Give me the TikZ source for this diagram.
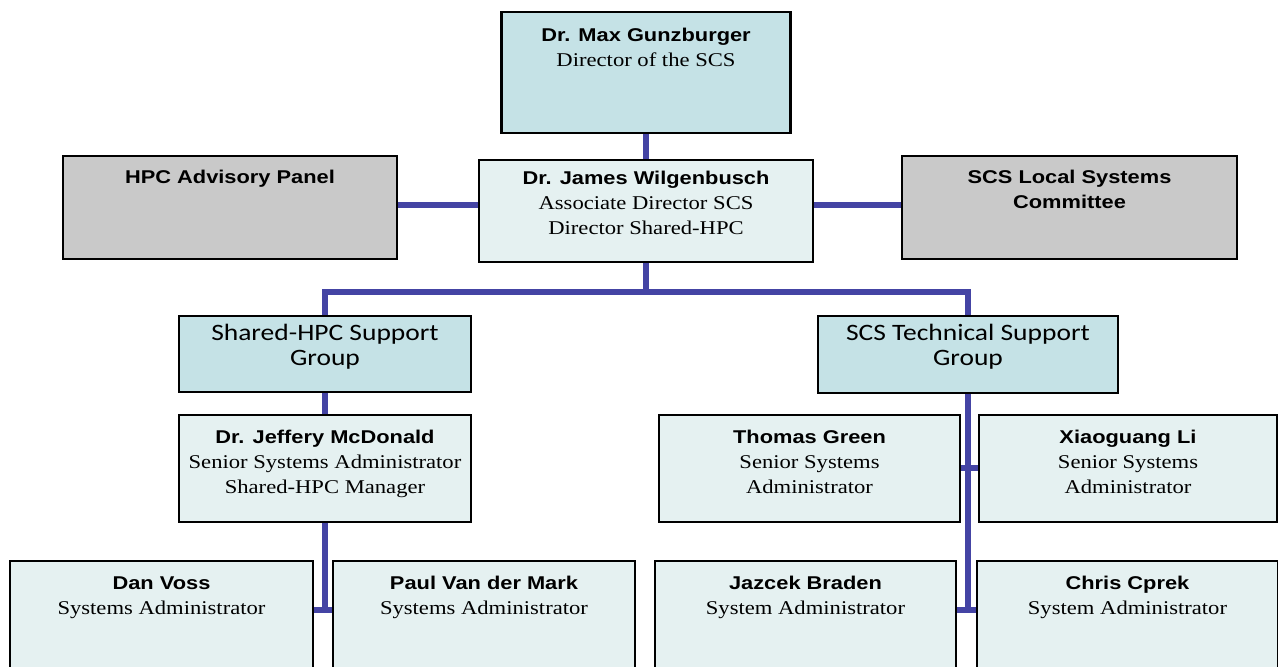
\documentclass[tikz,border=0pt]{standalone}
\usepackage{fontspec}
\newfontfamily\namefont[FakeStretch=1.18]{Liberation Sans}
\newfontfamily\titlefont[FakeStretch=1.16]{Liberation Serif}
\newfontfamily\groupfont[FakeStretch=1.17]{Carlito}
\newcommand\nmf{\namefont\bfseries\fontsize{18.5}{25}\selectfont}
\newcommand\tlf{\titlefont\fontsize{19.5}{25}\selectfont}
\newcommand\grf{\groupfont\fontsize{23.5}{25}\selectfont}
\newcommand\lineset[1]{\vtop{\baselineskip=25pt\lineskiplimit=-100pt\lineskip=0pt\halign{\hfil##\hfil\cr#1\crcr}}}
\definecolor{tealdark}{HTML}{C5E2E6}
\definecolor{teallight}{HTML}{E5F1F1}
\definecolor{greyfill}{HTML}{C9C9C9}
\definecolor{connblue}{HTML}{4444A4}
\begin{document}
\begin{tikzpicture}[x=1pt,y=-1pt,
  box/.style={draw=black, line width=2.2pt, rectangle, inner sep=0pt},
  dark/.style={box, fill=tealdark},
  light/.style={box, fill=teallight},
  grey/.style={box, fill=greyfill},
  conn/.style={draw=connblue, line width=6pt},
  txt/.style={anchor=base, inner sep=0pt}]
\useasboundingbox (0,0) rectangle (1278,667);
\clip (0,0) rectangle (1278,667);
% boxes
\node[dark,  minimum width=289pt, minimum height=121pt] (max)   at (646,72.5) {};
\node[light, minimum width=334pt, minimum height=102pt] (james) at (646,211) {};
\node[grey,  minimum width=334pt, minimum height=103pt] (hpc)   at (230,207.5) {};
\node[grey,  minimum width=335pt, minimum height=103pt] (local) at (1069.5,207.5) {};
\node[dark,  minimum width=292pt, minimum height=76pt]  (shg)   at (325,354) {};
\node[dark,  minimum width=300pt, minimum height=77pt]  (tsg)   at (968,354.5) {};
\node[light, minimum width=292pt, minimum height=107pt] (mcd)   at (325,468.5) {};
\node[light, minimum width=301pt, minimum height=107pt] (green) at (809.5,468.5) {};
\node[light, minimum width=298pt, minimum height=107pt] (li)    at (1128,468.5) {};
\node[light, minimum width=303pt, minimum height=140pt] (voss)  at (161.5,631) {};
\node[light, minimum width=302pt, minimum height=140pt] (paul)  at (484,631) {};
\node[light, minimum width=301pt, minimum height=140pt] (jaz)   at (805.5,631) {};
\node[light, minimum width=301pt, minimum height=140pt] (chris) at (1127.5,631) {};
% texts
\node[txt] (max-t) at ([yshift=-31pt]max.north) {\lineset{\nmf Dr. Max Gunzburger\cr\tlf Director of the SCS}};
\node[txt] (james-t) at ([yshift=-26pt]james.north) {\lineset{\nmf Dr. James Wilgenbusch\cr\tlf Associate Director SCS\cr\tlf Director Shared-HPC}};
\node[txt] (hpc-t) at ([yshift=-29pt]hpc.north) {\lineset{\nmf HPC Advisory Panel}};
\node[txt] (local-t) at ([yshift=-29pt]local.north) {\lineset{\nmf SCS Local Systems\cr\nmf Committee}};
\node[txt] (shg-t) at ([yshift=-26pt]shg.north) {\lineset{\grf Shared-HPC Support\cr\grf Group}};
\node[txt] (tsg-t) at ([yshift=-26pt]tsg.north) {\lineset{\grf SCS Technical Support\cr\grf Group}};
\node[txt] (mcd-t) at ([yshift=-30pt]mcd.north) {\lineset{\nmf Dr. Jeffery McDonald\cr\tlf Senior Systems Administrator\cr\tlf Shared-HPC Manager}};
\node[txt] (green-t) at ([yshift=-30pt]green.north) {\lineset{\nmf Thomas Green\cr\tlf Senior Systems\cr\tlf Administrator}};
\node[txt] (li-t) at ([yshift=-30pt]li.north) {\lineset{\nmf Xiaoguang Li\cr\tlf Senior Systems\cr\tlf Administrator}};
\node[txt] (voss-t) at ([yshift=-30pt]voss.north) {\lineset{\nmf Dan Voss\cr\tlf Systems Administrator}};
\node[txt] (paul-t) at ([yshift=-30pt]paul.north) {\lineset{\nmf Paul Van der Mark\cr\tlf Systems Administrator}};
\node[txt] (jaz-t) at ([yshift=-30pt]jaz.north) {\lineset{\nmf Jazcek Braden\cr\tlf System Administrator}};
\node[txt] (chris-t) at ([yshift=-30pt]chris.north) {\lineset{\nmf Chris Cprek\cr\tlf System Administrator}};
% helper coordinates
\coordinate (ly) at (0,205);
\coordinate (bus) at (0,292);
\coordinate (t3) at (0,468);
\coordinate (t2) at (0,610);
\coordinate (vend) at (0,613);
% connectors
\draw[conn] (max.south) -- (james.north);
\draw[conn] (hpc.east |- ly) -- (james.west |- ly);
\draw[conn] (james.east |- ly) -- (local.west |- ly);
\draw[conn] (james.south) -- (james.south |- bus);
\draw[conn] (shg.north) -- (shg.north |- bus) -- (tsg.north |- bus) -- (tsg.north);
\draw[conn] (shg.south) -- (mcd.north);
\draw[conn] (mcd.south) -- (mcd.south |- vend);
\draw[conn] (voss.east |- t2) -- (paul.west |- t2);
\draw[conn] (tsg.south) -- (tsg.south |- vend);
\draw[conn] (green.east |- t3) -- (li.west |- t3);
\draw[conn] (jaz.east |- t2) -- (chris.west |- t2);
\end{tikzpicture}
\end{document}
